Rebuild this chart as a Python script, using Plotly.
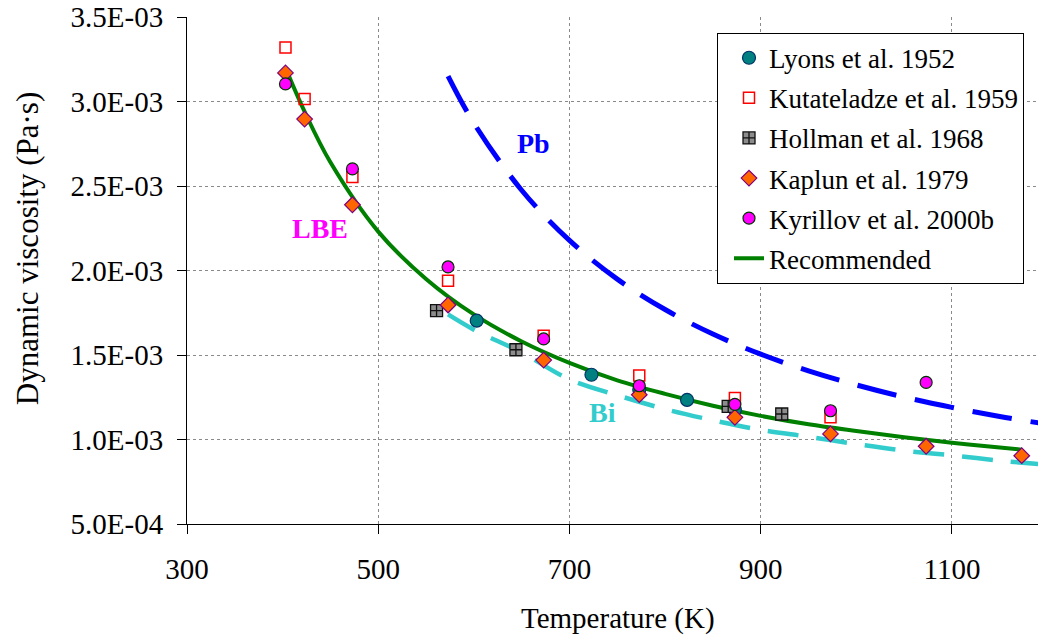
import plotly.graph_objects as go

# ---------------- data (temperature in K, dynamic viscosity in Pa·s) ----------------
lyons_T = [603, 723, 773, 823, 873]
lyons_mu = [1.703e-3, 1.383e-3, 1.295e-3, 1.234e-3, 1.176e-3]

kut_T = [403, 423, 473, 573, 673, 773, 873, 973]
kut_mu = [3.32e-3, 3.015e-3, 2.553e-3, 1.94e-3, 1.614e-3, 1.378e-3, 1.246e-3, 1.131e-3]

hol_T = [561, 644, 866, 922]
hol_mu = [1.762e-3, 1.531e-3, 1.196e-3, 1.151e-3]

kap_T = [403, 423, 473, 573, 673, 773, 873, 973, 1073, 1173]
kap_mu = [3.169e-3, 2.896e-3, 2.389e-3, 1.796e-3, 1.47e-3, 1.265e-3, 1.131e-3, 1.033e-3, 0.96e-3, 0.904e-3]

kyr_T = [403, 473, 573, 673, 773, 873, 973, 1073]
kyr_mu = [3.104e-3, 2.601e-3, 2.021e-3, 1.595e-3, 1.318e-3, 1.208e-3, 1.17e-3, 1.338e-3]

rec_T = [403, 423, 450, 500, 550, 600, 650, 700, 750, 800, 850, 900, 950, 1000, 1050, 1100, 1150, 1173]
rec_mu = [3.20e-3, 2.94e-3, 2.64e-3, 2.23e-3, 1.95e-3, 1.74e-3, 1.58e-3, 1.453e-3, 1.35e-3, 1.27e-3,
          1.20e-3, 1.14e-3, 1.09e-3, 1.05e-3, 1.013e-3, 0.981e-3, 0.952e-3, 0.94e-3]

pb_T = [573, 600, 650, 700, 750, 800, 850, 900, 950, 1000, 1050, 1100, 1150, 1200]
pb_mu = [3.15e-3, 2.872e-3, 2.475e-3, 2.178e-3, 1.949e-3, 1.769e-3, 1.624e-3, 1.505e-3, 1.406e-3,
         1.323e-3, 1.251e-3, 1.19e-3, 1.136e-3, 1.09e-3]

bi_T = [573, 600, 650, 700, 750, 800, 850, 900, 950, 1000, 1050, 1100, 1150, 1200]
bi_mu = [1.74e-3, 1.65e-3, 1.515e-3, 1.356e-3, 1.262e-3, 1.18e-3, 1.114e-3, 1.057e-3, 1.016e-3,
         0.973e-3, 0.934e-3, 0.906e-3, 0.875e-3, 0.85e-3]

x_ticks = [300, 500, 700, 900, 1100]
y_ticks = [5.0e-4, 1.0e-3, 1.5e-3, 2.0e-3, 2.5e-3, 3.0e-3, 3.5e-3]
y_tick_text = ["5.0E-04", "1.0E-03", "1.5E-03", "2.0E-03", "2.5E-03", "3.0E-03", "3.5E-03"]

FONT = "Liberation Serif, Times New Roman, serif"

fig = go.Figure()

# lines
fig.add_trace(go.Scatter(x=bi_T, y=bi_mu, mode="lines", showlegend=False,
                         line=dict(color="#33CCCC", width=4.5, dash="31px,18px", shape="spline")))
fig.add_trace(go.Scatter(x=pb_T, y=pb_mu, mode="lines", showlegend=False,
                         line=dict(color="#0000FF", width=5, dash="40px,19px", shape="spline")))
fig.add_trace(go.Scatter(x=rec_T, y=rec_mu, mode="lines", name="Recommended",
                         legendgroup="g6", legendrank=6,
                         line=dict(color="#008000", width=4, shape="spline")))

# markers
fig.add_trace(go.Scatter(x=lyons_T, y=lyons_mu, mode="markers", name="Lyons et al. 1952",
                         legendgroup="g1", legendrank=1,
                         marker=dict(symbol="circle", size=13, color="#008080",
                                     line=dict(color="#003366", width=1.2))))
fig.add_trace(go.Scatter(x=kut_T, y=kut_mu, mode="markers", name="Kutateladze et al. 1959",
                         legendgroup="g2", legendrank=2,
                         marker=dict(symbol="square-open", size=11, color="#FF0000",
                                     line=dict(color="#FF0000", width=1.5))))
fig.add_trace(go.Scatter(x=hol_T, y=hol_mu, mode="markers", name="Hollman et al. 1968",
                         legendgroup="g3", legendrank=3,
                         marker=dict(symbol="square-cross", size=12, color="#8C8C8C",
                                     line=dict(color="#111111", width=1.3))))
fig.add_trace(go.Scatter(x=kap_T, y=kap_mu, mode="markers", name="Kaplun et al. 1979",
                         legendgroup="g4", legendrank=4,
                         marker=dict(symbol="diamond", size=12, color="#FF6600",
                                     line=dict(color="#800080", width=1.2))))
fig.add_trace(go.Scatter(x=kyr_T, y=kyr_mu, mode="markers", name="Kyrillov et al. 2000b",
                         legendgroup="g5", legendrank=5,
                         marker=dict(symbol="circle", size=12, color="#FF00FF",
                                     line=dict(color="#003300", width=1.2))))

# in-plot labels
fig.add_annotation(x=662, y=2.75e-3, text="<b>Pb</b>", showarrow=False,
                   font=dict(family=FONT, size=28, color="#0000FF"))
fig.add_annotation(x=439, y=2.249e-3, text="<b>LBE</b>", showarrow=False,
                   font=dict(family=FONT, size=28, color="#FF00FF"))
fig.add_annotation(x=735, y=1.162e-3, text="<b>Bi</b>", showarrow=False,
                   font=dict(family=FONT, size=28, color="#33CCCC"))

# axis titles
fig.add_annotation(xref="paper", yref="paper", x=0.5065, y=-0.187, text="Temperature (K)",
                   showarrow=False, xanchor="center", yanchor="middle",
                   font=dict(family=FONT, size=29, color="black"))
fig.add_annotation(xref="paper", yref="paper", x=-0.1875, y=0.5429, text="Dynamic viscosity (Pa·s)",
                   showarrow=False, textangle=-90, xanchor="center", yanchor="middle",
                   font=dict(family=FONT, size=31, color="black"))

fig.update_xaxes(range=[300, 1190], tickvals=x_ticks, ticks="outside", ticklen=9, tickcolor="black",
                 showline=True, linecolor="black", linewidth=1,
                 showgrid=True, gridcolor="#8A8A8A", gridwidth=1, griddash="dot",
                 zeroline=False, ticklabelstandoff=10,
                 tickfont=dict(family=FONT, size=29, color="black"))
fig.update_yaxes(range=[5e-4, 3.5e-3], tickvals=y_ticks, ticktext=y_tick_text, ticks="outside",
                 ticklen=9, tickcolor="black", showline=True, linecolor="black", linewidth=1,
                 showgrid=True, gridcolor="#8A8A8A", gridwidth=1, griddash="dot",
                 zeroline=False, ticklabelstandoff=8,
                 tickfont=dict(family=FONT, size=29, color="black"))

fig.update_layout(
    width=1038, height=641,
    margin=dict(l=187, r=0, t=17, b=117),
    paper_bgcolor="white", plot_bgcolor="white",
    font=dict(family=FONT, color="black"),
    legend=dict(x=0.6228, y=0.969, xanchor="left", yanchor="top",
                bgcolor="white", bordercolor="black", borderwidth=1,
                font=dict(family=FONT, size=27, color="black"),
                traceorder="grouped", tracegroupgap=2, indentation=11, itemwidth=30),
)

fig.write_html("out.html")
